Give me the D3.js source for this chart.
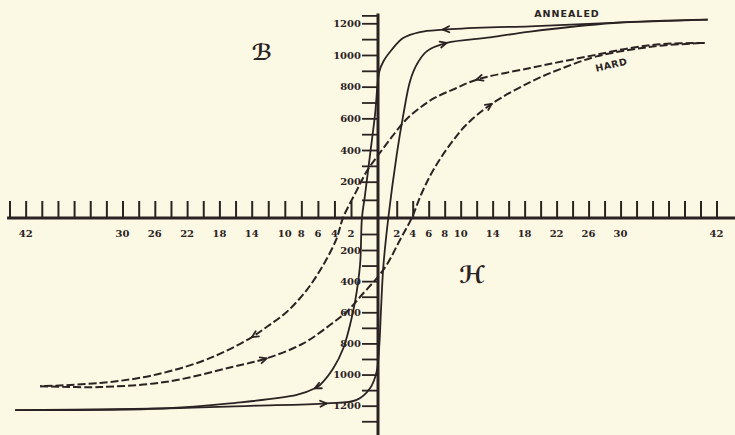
<!DOCTYPE html>
<html>
<head>
<meta charset="utf-8">
<script src="https://cdn.jsdelivr.net/npm/d3@7"></script>
<style>
  body { margin: 0; background: #fbf8e3; }
  svg { display: block; }
</style>
</head>
<body>
<div id="vis"></div>
<script>
////////// data: [H, B] //////////
var annealedDown = [[40.9,1223],[31.2,1208],[18.7,1180],[13.7,1174],[7.8,1160],[4.9,1145],[2.8,1107],[1.47,1033],[0.57,959],[0.14,896],[-0.22,623],[-0.59,370],[-0.96,128],[-1.19,0],[-1.33,-296],[-1.7,-532],[-2.12,-682],[-2.93,-831],[-4.14,-960],[-5.75,-1067],[-6.35,-1088],[-8.56,-1131],[-16.7,-1185],[-25,-1218],[-43.3,-1228]];
var annealedUp = [[-43.3,-1228],[-24.5,-1217],[-14.2,-1201],[-4.94,-1185],[-1.58,-1163],[-0.59,-1088],[-0.1,-981],[0.14,-810],[0.32,-585],[0.57,-307],[1.1,0],[2.0,370],[2.83,623],[3.66,833],[4.5,939],[5.75,1023],[8.25,1076],[13.7,1111],[18.7,1148],[29.1,1202],[40.9,1223]];
var hardDown = [[40.5,1076],[35.3,1069],[31.2,1044],[27.0,1002],[22.8,960],[18.7,918],[12.0,844],[9.29,787],[6.79,730],[4.91,667],[3.04,585],[1.5,484],[0.21,383],[-0.81,269],[-1.63,144],[-2.97,0],[-3.73,-127],[-5.35,-296],[-7.35,-457],[-9.77,-598],[-12.03,-688],[-13.96,-759],[-16.69,-836],[-20.4,-919],[-26.6,-1009],[-32.8,-1054],[-40.2,-1075]];
var hardUp = [[-40.2,-1075],[-32.8,-1080],[-24.5,-1046],[-16.3,-950],[-12.2,-896],[-7.76,-800],[-4.54,-682],[-2.52,-596],[-1.09,-478],[-0.1,-382],[0.93,-296],[2.41,-137],[3.88,0],[5.04,128],[6.17,236],[7.42,343],[8.92,451],[10.67,558],[13.88,691],[18.7,829],[22.8,918],[27.0,991],[31.2,1033],[35.3,1060],[40.5,1076]];

// H values where the little arrowheads sit on each branch
var annealedDownArrows = [7.8, -6.35];
var annealedUpArrows = [-4.94, 8.25];
var hardDownArrows = [12.0, -13.96];
var hardUpArrows = [-12.2, 13.88];

var xTicksLeft = d3.range(-44, 0, 2);
var xTicksRight = d3.range(2, 43, 2);
var xLabelsLeft = [42, 30, 26, 22, 18, 14, 10, 8, 6, 4, 2];
var xLabelsRight = [2, 4, 6, 8, 10, 14, 18, 22, 26, 30, 42];
var yTicks = d3.range(-1300, 1300, 100).filter(d => d != 0).concat([1250]);
var yLabels = [200, 400, 600, 800, 1000, 1200];

////////// setting up //////////
var width = 735
var height = 435
var ink = "#2b2323"

const svg = d3.select("#vis")
  .append("svg")
  .attr("width", width)
  .attr("height", height);

svg.append("rect").attr("width", width).attr("height", height).attr("fill", "#fbf8e3");

// the engraved axis is not quite even, so the scales are piecewise
const x = d3.scaleLinear()
  .domain([-44, -14, -2, 0, 2, 42])
  .range([9.5, 251.7, 351, 378, 396.7, 716.5]);
const y = d3.scaleLinear()
  .domain([-1200, -200, 0, 200, 1200])
  .range([405.7, 250, 218, 181.7, 23.3]);

////////// axes //////////
const xAxis = svg.append("g")
  .attr("transform", `translate(0,${y(0)})`)
  .call(d3.axisTop(x).tickValues(xTicksLeft.concat(xTicksRight)).tickSize(17).tickFormat(""));
xAxis.select(".domain").remove();
xAxis.selectAll("line").attr("stroke", ink).attr("stroke-width", 2);

const yAxis = svg.append("g")
  .attr("transform", `translate(${x(0)},0)`)
  .call(d3.axisLeft(y).tickValues(yTicks).tickSize(16).tickPadding(1)
    .tickFormat(d => yLabels.includes(Math.abs(d)) ? Math.abs(d) : ""));
yAxis.select(".domain").remove();
yAxis.selectAll("line").attr("stroke", ink).attr("stroke-width", 1.8);
yAxis.selectAll("text")
  .attr("fill", ink)
  .attr("font-family", "DejaVu Serif")
  .attr("font-weight", "bold")
  .attr("font-size", 10);

svg.append("line")
  .attr("x1", x(-44.3)).attr("x2", width)
  .attr("y1", y(0)).attr("y2", y(0))
  .attr("stroke", ink).attr("stroke-width", 3);
svg.append("line")
  .attr("x1", x(0)).attr("x2", x(0))
  .attr("y1", y(1262)).attr("y2", height)
  .attr("stroke", ink).attr("stroke-width", 3);

const xl = svg.append("g")
  .attr("fill", ink)
  .attr("font-family", "DejaVu Serif")
  .attr("font-weight", "bold")
  .attr("font-size", 10)
  .attr("text-anchor", "middle");
xl.selectAll("text.left").data(xLabelsLeft).join("text")
  .attr("class", "left")
  .attr("x", d => x(-d)).attr("y", y(0) + 19)
  .text(d => d);
xl.selectAll("text.right").data(xLabelsRight).join("text")
  .attr("class", "right")
  .attr("x", d => x(d)).attr("y", y(0) + 19)
  .text(d => d);

////////// curves //////////
const line = d3.line()
  .x(d => x(d[0]))
  .y(d => y(d[1]))
  .curve(d3.curveCatmullRom.alpha(0.5));

function branch(data, arrows, dashed) {
  let path = svg.append("path")
    .datum(data)
    .attr("d", line)
    .attr("fill", "none")
    .attr("stroke", ink)
    .attr("stroke-width", dashed ? 2 : 1.8)
    .attr("stroke-dasharray", dashed ? "8,3" : null);
  let node = path.node();
  let total = node.getTotalLength();
  arrows.forEach(function(h) {
    let p = data.find(d => d[0] == h);
    let px = x(p[0]), py = y(p[1]);
    // nearest length along the path
    let best = 0, bestD = 1e9;
    for (let l = 0; l <= total; l += 0.5) {
      let q = node.getPointAtLength(l);
      let dd = (q.x - px) * (q.x - px) + (q.y - py) * (q.y - py);
      if (dd < bestD) { bestD = dd; best = l; }
    }
    let a = node.getPointAtLength(Math.max(0, best - 2));
    let b = node.getPointAtLength(Math.min(total, best + 2));
    let ang = Math.atan2(b.y - a.y, b.x - a.x);
    let tip = node.getPointAtLength(best);
    let len = 7, spread = 0.45;
    [ang + Math.PI - spread, ang + Math.PI + spread].forEach(function(t) {
      svg.append("line")
        .attr("x1", tip.x).attr("y1", tip.y)
        .attr("x2", tip.x + len * Math.cos(t)).attr("y2", tip.y + len * Math.sin(t))
        .attr("stroke", ink).attr("stroke-width", 1.8)
        .attr("stroke-linecap", "round");
    });
  });
}

branch(annealedDown, annealedDownArrows, false);
branch(annealedUp, annealedUpArrows, false);
branch(hardDown, hardDownArrows, true);
branch(hardUp, hardUpArrows, true);

////////// lettering //////////
svg.append("text")
  .attr("x", 567).attr("y", 17)
  .attr("text-anchor", "middle")
  .attr("fill", ink)
  .attr("font-family", "DejaVu Sans")
  .attr("font-weight", "bold")
  .attr("font-size", 9.5)
  .attr("letter-spacing", 1)
  .text("ANNEALED");
svg.append("text")
  .attr("transform", "translate(612,68) rotate(-13)")
  .attr("text-anchor", "middle")
  .attr("fill", ink)
  .attr("font-family", "DejaVu Sans")
  .attr("font-weight", "bold")
  .attr("font-size", 9.5)
  .attr("letter-spacing", 0.5)
  .text("HARD");
svg.append("text")
  .attr("x", 262).attr("y", 60)
  .attr("text-anchor", "middle")
  .attr("fill", ink)
  .attr("font-family", "DejaVu Serif, DejaVu Sans")
  .attr("font-weight", "bold")
  .attr("font-size", 22)
  .text("ℬ");
svg.append("text")
  .attr("x", 472).attr("y", 283)
  .attr("text-anchor", "middle")
  .attr("fill", ink)
  .attr("font-family", "DejaVu Serif, DejaVu Sans")
  .attr("font-weight", "bold")
  .attr("font-size", 24)
  .text("ℋ");
</script>
</body>
</html>
